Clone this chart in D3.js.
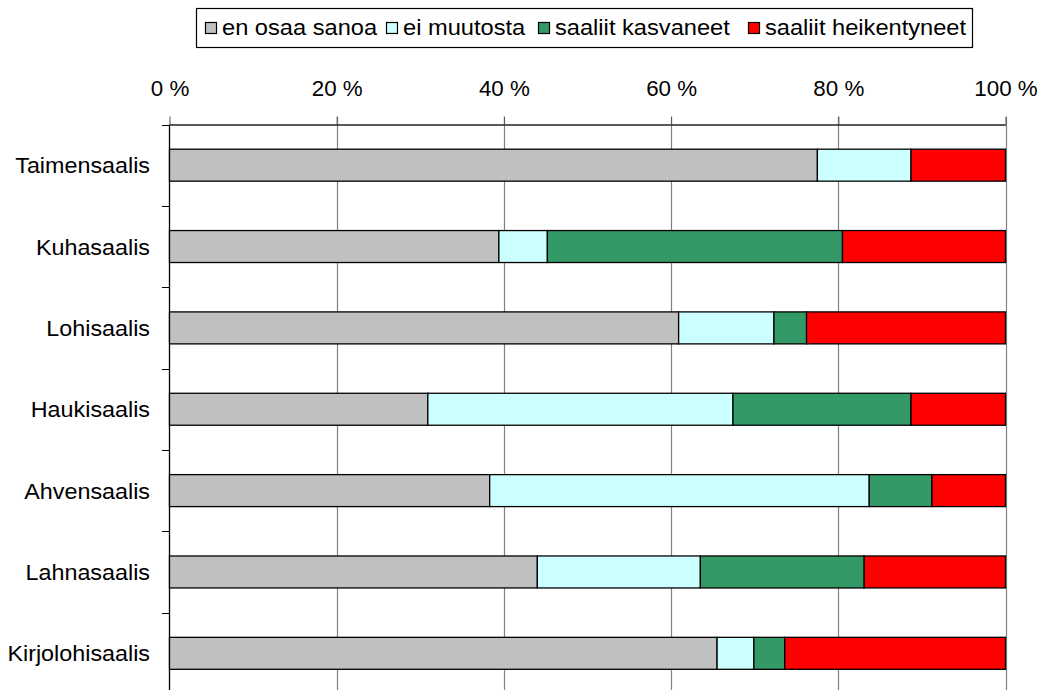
<!DOCTYPE html>
<html><head><meta charset="utf-8">
<script src="https://cdn.jsdelivr.net/npm/d3@7"></script>
<style>body{margin:0;background:#fff}svg{display:block}text{font-family:"Liberation Sans",Arial,sans-serif;fill:#000}</style>
</head><body>
<svg id="c" width="1041" height="690"></svg>
<script>
const categories = ["Taimensaalis","Kuhasaalis","Lohisaalis","Haukisaalis","Ahvensaalis","Lahnasaalis","Kirjolohisaalis"];
const seriesNames = ["en osaa sanoa","ei muutosta","saaliit kasvaneet","saaliit heikentyneet"];
const seriesColors = ["#C0C0C0","#CCFFFF","#339966","#FF0000"];
const enOsaaSanoa = [77.5, 39.4, 60.9, 30.9, 38.3, 44.0, 65.5];
const eiMuutosta = [11.2, 5.8, 11.4, 36.5, 45.4, 19.5, 4.4];
const saaliitKasvaneet = [0.0, 35.3, 3.9, 21.3, 7.5, 19.6, 3.7];
const saaliitHeikentyneet = [11.3, 19.5, 23.8, 11.3, 8.8, 16.9, 26.4];
const tickValues = [0,20,40,60,80,100];

const seriesValues = [enOsaaSanoa, eiMuutosta, saaliitKasvaneet, saaliitHeikentyneet];
const rows = categories.map((c,i)=>{const r={cat:c}; seriesNames.forEach((s,j)=>r[s]=seriesValues[j][i]); return r;});
const stacked = d3.stack().keys(seriesNames).offset(d3.stackOffsetExpand)(rows);

const svg = d3.select("#c");
const x = d3.scaleLinear().domain([0,1]).range([169.5,1005.5]);
const y = d3.scaleBand().domain(categories).range([124.5,694]).paddingInner(0.607).paddingOuter(0.3035);
const FS = "21.5px";

// gridlines
svg.append("g").selectAll("line").data(tickValues.slice(1)).join("line")
  .attr("x1",d=>Math.round(x(d/100))+0.5).attr("x2",d=>Math.round(x(d/100))+0.5)
  .attr("y1",117).attr("y2",694).attr("stroke","#808080").attr("stroke-width",1.2);

// top axis
const topAxis = d3.axisTop(x).tickValues(tickValues.map(d=>d/100)).tickSize(8).tickSizeOuter(0).tickFormat(d=>Math.round(d*100)+" %");
const gt = svg.append("g").attr("transform","translate(0,124.5)").call(topAxis);
gt.select(".domain").attr("stroke","#222").attr("stroke-width",1.3);
gt.selectAll(".tick line").attr("stroke","#555");
gt.selectAll(".tick text").attr("font-size",FS).attr("font-family","'Liberation Sans',Arial,sans-serif")
  .attr("y",0).attr("dy",0).attr("transform","translate(0,-29) scale(1.04,1)");

// left axis line and ticks at band boundaries
const step = y.step();
const bounds = d3.range(categories.length).map(i=>y(categories[i]) - (step - y.bandwidth())/2);
svg.append("line").attr("x1",169.5).attr("x2",169.5).attr("y1",124.5).attr("y2",694).attr("stroke","#000").attr("stroke-width",1.3);
svg.append("g").selectAll("line").data(bounds).join("line")
  .attr("x1",162).attr("x2",169.5).attr("y1",d=>Math.round(d)+0.5).attr("y2",d=>Math.round(d)+0.5).attr("stroke","#000");

// category labels
svg.append("g").selectAll("text").data(categories).join("text")
  .attr("transform",d=>`translate(150,${y(d)+y.bandwidth()/2+8}) scale(1.085,1)`)
  .attr("text-anchor","end").attr("font-size",FS).text(d=>d);

// bars
const gb = svg.append("g");
stacked.forEach((s,j)=>{
  gb.append("g").selectAll("rect").data(s.filter(d=>d[1]-d[0]>0)).join("rect")
    .attr("x",d=>x(d[0])).attr("width",d=>x(d[1])-x(d[0]))
    .attr("y",d=>y(d.data.cat)).attr("height",y.bandwidth())
    .attr("fill",seriesColors[j]).attr("stroke","#000").attr("stroke-width",1.3);
});

// legend
const lg = svg.append("g");
lg.append("rect").attr("x",196.5).attr("y",8.5).attr("width",776).attr("height",39).attr("fill","#fff").attr("stroke","#000").attr("stroke-width",1.2);
const pos = [205,386,538,748];
seriesNames.forEach((s,j)=>{
  lg.append("rect").attr("x",pos[j]+0.5).attr("y",22.5).attr("width",11).attr("height",11).attr("fill",seriesColors[j]).attr("stroke","#000").attr("stroke-width",1.2);
  lg.append("text").attr("transform",`translate(${pos[j]+17},34.5) scale(1.1,1)`).attr("font-size",FS).text(s);
});
</script>
</body></html>
